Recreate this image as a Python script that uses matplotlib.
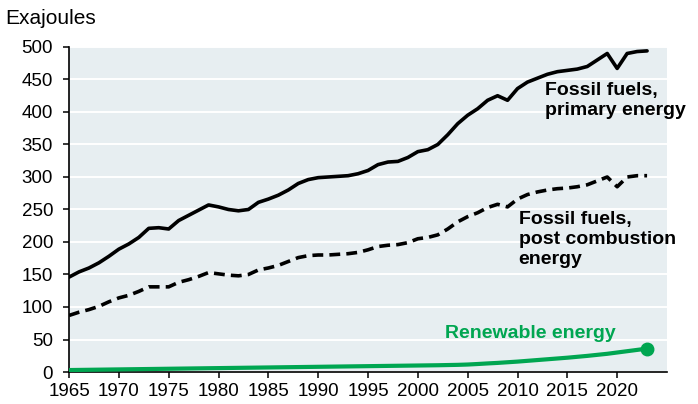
import matplotlib
matplotlib.use('Agg')
import matplotlib.pyplot as plt

years = list(range(1965, 2024))

primary = [146, 154, 160, 168, 178, 189, 197, 207, 221, 222,
           220, 233, 241, 249, 257, 254, 250, 248, 250, 261,
           266, 272, 280, 290, 296, 299, 300, 301, 302, 305,
           310, 319, 323, 324, 330, 339, 342, 350, 365, 382,
           395, 405, 418, 425, 418, 436, 446, 452, 458, 462,
           464, 466, 470, 480, 490, 467, 490, 493, 494]

post_comb = [87, 92, 96, 101, 108, 114, 118, 124, 131, 131,
             131, 138, 142, 147, 153, 151, 149, 148, 150, 157,
             160, 164, 170, 176, 179, 180, 180, 181, 182, 184,
             188, 193, 195, 196, 199, 205, 207, 211, 220, 231,
             239, 245, 253, 258, 254, 266, 273, 277, 280, 282,
             283, 285, 288, 294, 300, 285, 300, 302, 302]

renewable = [3.0, 3.2, 3.4, 3.6, 3.8, 4.0, 4.2, 4.4, 4.6, 4.8,
             5.0, 5.2, 5.4, 5.6, 5.8, 6.0, 6.2, 6.4, 6.6, 6.8,
             7.0, 7.2, 7.4, 7.6, 7.8, 8.0, 8.2, 8.4, 8.6, 8.8,
             9.0, 9.2, 9.4, 9.6, 9.8, 10.0, 10.2, 10.4, 10.7, 11.0,
             11.5, 12.3, 13.2, 14.0, 15.0, 16.0, 17.2, 18.4, 19.6, 20.8,
             22.0, 23.4, 24.8, 26.4, 28.0, 30.0, 32.0, 34.0, 36.0]

xticks = list(range(1965, 2021, 5))
yticks = list(range(0, 501, 50))

GREEN = '#00A651'
BG = '#E7EEF1'

plt.rcParams['font.family'] = ['Liberation Sans', 'DejaVu Sans']

fig = plt.figure(figsize=(6.98, 4.04), dpi=100)
ax = fig.add_axes([0.0989, 0.0792, 0.8567, 0.8045])
ax.set_facecolor(BG)

ax.plot(years, primary, color='black', lw=2.6, solid_joinstyle='round',
        solid_capstyle='round', zorder=3)
ax.plot(years, post_comb, color='black', lw=2.6, ls=(0, (3.0, 1.7)), zorder=3)
ax.plot(years, renewable, color=GREEN, lw=3.0, solid_capstyle='round', zorder=3)
ax.plot(years[-1:], renewable[-1:], 'o', color=GREEN, ms=9, zorder=4, clip_on=False)

ax.set_xlim(1965, 2025)
ax.set_ylim(0, 500)
ax.set_xticks(xticks)
ax.set_yticks(yticks)
ax.tick_params(labelsize=13.5, length=4, width=1.1, direction='out')
ax.tick_params(axis='x', pad=4)
ax.tick_params(axis='y', pad=7.5)
ax.yaxis.grid(True, color='white', lw=1.4)
ax.set_axisbelow(True)
for s in ['top', 'right']:
    ax.spines[s].set_visible(False)
for s in ['left', 'bottom']:
    ax.spines[s].set_linewidth(1.2)

ax.text(2012.8, 446, 'Fossil fuels,\nprimary energy', fontsize=14,
        fontweight='bold', va='top', ha='left', linespacing=1.2, zorder=5)
ax.text(2010.1, 247, 'Fossil fuels,\npost combustion\nenergy', fontsize=14,
        fontweight='bold', va='top', ha='left', linespacing=1.2, zorder=5)
ax.text(2002.7, 60, 'Renewable energy', fontsize=14, fontweight='bold',
        color=GREEN, va='center', ha='left', zorder=5)

fig.text(0.008, 0.955, 'Exajoules', fontsize=15, va='center', ha='left')

fig.savefig('out.png', dpi=100)
